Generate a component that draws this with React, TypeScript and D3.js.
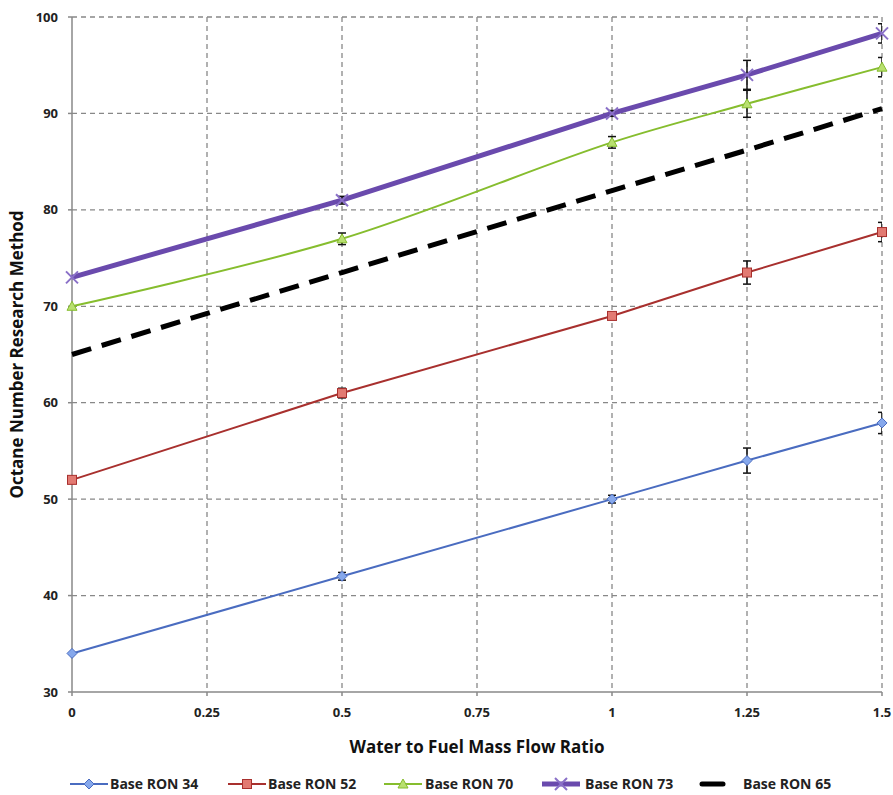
import * as d3 from 'd3';

const xValues = [0, 0.5, 1, 1.25, 1.5];
const ron34 = [34, 42, 50, 54, 57.9];
const ron52 = [52, 61, 69, 73.5, 77.7];
const ron70 = [70, 77, 87, 91, 94.8];
const ron73 = [73, 81, 90, 94, 98.3];
const ron65 = [65, 73.5, 82, 86.2, 90.5];

// error bar half-widths (0 = none drawn)
const err34 = [0, 0.4, 0.4, 1.3, 1.1];
const err52 = [0, 0.5, 0.3, 1.2, 1.0];
const err70 = [0, 0.6, 0.6, 1.4, 1.0];
const err73 = [0, 0.4, 0.3, 1.5, 1.0];

const xTicks = [0, 0.25, 0.5, 0.75, 1, 1.25, 1.5];
const xTickLabels = ['0', '0.25', '0.5', '0.75', '1', '1.25', '1.5'];
const yTicks = [30, 40, 50, 60, 70, 80, 90, 100];

const W = 893;
const H = 795;
const LEFT = 72;
const RIGHT = 882;
const TOP = 17;
const BOTTOM = 692;
const FONT = "'Open Sans', 'Liberation Sans', sans-serif";

type Marker = 'diamond' | 'square' | 'triangle' | 'x' | 'none';

interface Series {
  name: string;
  values: number[];
  errors: number[] | null;
  color: string;
  fill: string;
  width: number;
  marker: Marker;
  smooth: boolean;
  dash?: string;
}

const series: Series[] = [
  { name: 'Base RON 34', values: ron34, errors: err34, color: '#4a6cc0', fill: '#86a8ec', width: 2, marker: 'diamond', smooth: false },
  { name: 'Base RON 52', values: ron52, errors: err52, color: '#a8302e', fill: '#e27a72', width: 2, marker: 'square', smooth: false },
  { name: 'Base RON 70', values: ron70, errors: err70, color: '#86bd2e', fill: '#b9e070', width: 2, marker: 'triangle', smooth: true },
  { name: 'Base RON 73', values: ron73, errors: err73, color: '#6a4aad', fill: '#8a70c8', width: 5, marker: 'x', smooth: false },
  { name: 'Base RON 65', values: ron65, errors: null, color: '#000000', fill: '#000', width: 5, marker: 'none', smooth: false, dash: '20 11' },
];

const legendX = [70, 228, 384, 542, 702];
const legendTextX = [110, 268, 425, 585, 743];

function MarkerShape({ kind, x, y, s }: { kind: Marker; x: number; y: number; s: Series }) {
  if (kind === 'diamond') {
    return <path d={`M${x},${y - 5}L${x + 5},${y}L${x},${y + 5}L${x - 5},${y}Z`} fill={s.fill} stroke={s.color} strokeWidth={1} />;
  }
  if (kind === 'square') {
    return <rect x={x - 4.5} y={y - 4.5} width={9} height={9} fill={s.fill} stroke={s.color} strokeWidth={1} />;
  }
  if (kind === 'triangle') {
    return <path d={`M${x},${y - 5}L${x + 5},${y + 4}L${x - 5},${y + 4}Z`} fill={s.fill} stroke={s.color} strokeWidth={1} />;
  }
  if (kind === 'x') {
    return <path d={`M${x - 6},${y - 6}L${x + 6},${y + 6}M${x + 6},${y - 6}L${x - 6},${y + 6}`} stroke={s.fill} strokeWidth={2} />;
  }
  return null;
}

export default function App() {
  const x = d3.scaleLinear().domain([0, 1.5]).range([LEFT, RIGHT]);
  const y = d3.scaleLinear().domain([30, 100]).range([BOTTOM, TOP]);

  const lineFor = (s: Series) =>
    d3
      .line<number>()
      .x((_, i) => x(xValues[i]))
      .y((v) => y(v))
      .curve(s.smooth ? d3.curveCatmullRom.alpha(0.5) : d3.curveLinear)(s.values) ?? '';

  const legendY = 784;

  return (
    <svg width={W} height={H} style={{ position: 'absolute', left: 0, top: 0, background: '#fff' }}>
      <defs>
        <clipPath id="plot">
          <rect x={LEFT} y={TOP - 2} width={RIGHT - LEFT} height={BOTTOM - TOP + 4} />
        </clipPath>
      </defs>

      {/* gridlines */}
      {yTicks.filter((t) => t > 30).map((t) => (
        <line key={`gy${t}`} x1={LEFT} x2={RIGHT} y1={y(t)} y2={y(t)} stroke="#888" strokeWidth={1.3} strokeDasharray="5 4" />
      ))}
      {xTicks.filter((t) => t > 0).map((t) => (
        <line key={`gx${t}`} x1={x(t)} x2={x(t)} y1={TOP} y2={BOTTOM} stroke="#888" strokeWidth={1.3} strokeDasharray="5 4" />
      ))}

      {/* axes */}
      <line x1={LEFT} x2={LEFT} y1={TOP} y2={BOTTOM} stroke="#888" strokeWidth={1.5} />
      <line x1={LEFT} x2={RIGHT} y1={BOTTOM} y2={BOTTOM} stroke="#888" strokeWidth={1.5} />
      {yTicks.map((t) => (
        <g key={`yt${t}`}>
          <line x1={LEFT - 4} x2={LEFT} y1={y(t)} y2={y(t)} stroke="#888" strokeWidth={1.5} />
          <text x={58} y={y(t)} dy="0.35em" textAnchor="end" fontFamily={FONT} fontWeight={700} fontSize={13} fill="#222">
            {t}
          </text>
        </g>
      ))}
      {xTicks.map((t, i) => (
        <g key={`xt${t}`}>
          <line x1={x(t)} x2={x(t)} y1={BOTTOM} y2={BOTTOM + 4} stroke="#888" strokeWidth={1.5} />
          <text x={x(t)} y={717} textAnchor="middle" fontFamily={FONT} fontWeight={700} fontSize={13} fill="#222">
            {xTickLabels[i]}
          </text>
        </g>
      ))}

      <text x={(LEFT + RIGHT) / 2} y={753} textAnchor="middle" fontFamily={FONT} fontWeight={700} fontSize={17} fill="#111">
        Water to Fuel Mass Flow Ratio
      </text>
      <text
        transform={`translate(23,${(TOP + BOTTOM) / 2}) rotate(-90)`}
        textAnchor="middle"
        fontFamily={FONT}
        fontWeight={700}
        fontSize={17}
        fill="#111"
      >
        Octane Number Research Method
      </text>

      {/* series lines */}
      {series.map((s) => (
        <path key={s.name} d={lineFor(s)} fill="none" stroke={s.color} strokeWidth={s.width} strokeDasharray={s.dash} strokeLinejoin="round" />
      ))}

      {/* error bars */}
      <g clipPath="url(#plot)">
        {series.map((s) =>
          s.errors
            ? s.values.map((v, i) =>
                s.errors![i] > 0 ? (
                  <g key={`${s.name}-e${i}`} stroke="#111" strokeWidth={1.5}>
                    <line x1={x(xValues[i])} x2={x(xValues[i])} y1={y(v + s.errors![i])} y2={y(v - s.errors![i])} />
                    <line x1={x(xValues[i]) - 4} x2={x(xValues[i]) + 4} y1={y(v + s.errors![i])} y2={y(v + s.errors![i])} />
                    <line x1={x(xValues[i]) - 4} x2={x(xValues[i]) + 4} y1={y(v - s.errors![i])} y2={y(v - s.errors![i])} />
                  </g>
                ) : null,
              )
            : null,
        )}
      </g>

      {/* markers */}
      {series.map((s) =>
        s.values.map((v, i) => <MarkerShape key={`${s.name}-m${i}`} kind={s.marker} x={x(xValues[i])} y={y(v)} s={s} />),
      )}

      {/* legend */}
      {series.map((s, i) => {
        const isDash = s.marker === 'none';
        const x0 = legendX[i];
        const x1 = isDash ? x0 + 21 : x0 + 38;
        return (
          <g key={`lg${s.name}`}>
            <line x1={x0} x2={x1} y1={legendY} y2={legendY} stroke={s.color} strokeWidth={s.width} strokeLinecap={isDash ? 'round' : 'butt'} />
            <MarkerShape kind={s.marker} x={(x0 + x1) / 2} y={legendY} s={s} />
            <text x={legendTextX[i]} y={legendY} dy="0.35em" fontFamily={FONT} fontWeight={700} fontSize={14} fill="#222">
              {s.name}
            </text>
          </g>
        );
      })}
    </svg>
  );
}
